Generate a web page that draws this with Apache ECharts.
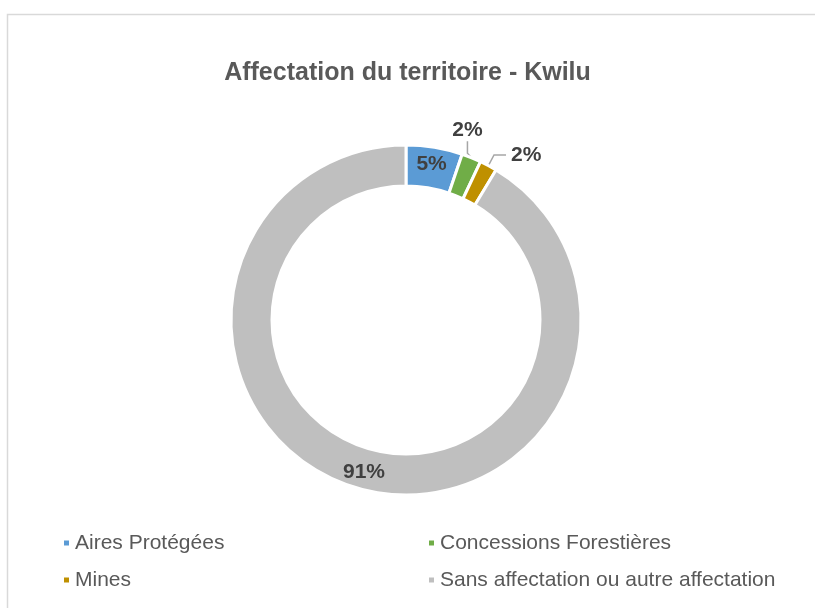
<!DOCTYPE html>
<html>
<head>
<meta charset="utf-8">
<script src="https://cdn.jsdelivr.net/npm/echarts@6/dist/echarts.min.js"></script>
<style>
  html, body { margin: 0; padding: 0; background: #fff; }
  #chart { width: 815px; height: 608px; }
</style>
</head>
<body>
<div id="chart"></div>
<script>
const titleText = 'Affectation du territoire - Kwilu';
const categories = ['Aires Protégées', 'Concessions Forestières', 'Mines', 'Sans affectation ou autre affectation'];
const shares = [5.2, 1.8, 1.6, 91.4];
const colors = ['#5B9BD5', '#70AD47', '#BF9000', '#BFBFBF'];

const total = shares.reduce((a, b) => a + b, 0);
const fontFamily = '"Liberation Sans", Arial, sans-serif';

const chart = echarts.init(document.getElementById('chart'));

const pieData = categories.map((name, i) => {
  const item = { name, value: shares[i], itemStyle: { color: colors[i] } };
  // the two thin slices get their label outside with a leader line
  if (i === 1 || i === 2) {
    item.label = { position: 'outside' };
    item.labelLine = { show: true, length: 12, length2: 12 };
  }
  return item;
});

const legendText = { color: '#595959', fontSize: 21, fontFamily, lineHeight: 24 };

chart.setOption({
  backgroundColor: '#fff',
  animation: false,
  title: {
    text: titleText,
    left: 'center',
    top: 56,
    textStyle: { color: '#595959', fontSize: 25, fontWeight: 'bold', fontFamily }
  },
  graphic: [{
    type: 'rect',
    shape: { x: 7.5, y: 14.5, width: 900, height: 700 },
    style: { fill: 'none', stroke: '#D9D9D9', lineWidth: 1.5 },
    silent: true
  }],
  legend: [
    {
      data: [categories[0], categories[2]],
      orient: 'vertical',
      left: 62, top: 531, padding: 0,
      icon: 'rect', itemWidth: 7, itemHeight: 7, itemGap: 13,
      textStyle: legendText
    },
    {
      data: [categories[1], categories[3]],
      orient: 'vertical',
      left: 427, top: 531, padding: 0,
      icon: 'rect', itemWidth: 7, itemHeight: 7, itemGap: 13,
      textStyle: legendText
    }
  ],
  series: [{
    type: 'pie',
    center: [406, 320],
    radius: [134, 175],
    startAngle: 90,
    clockwise: true,
    avoidLabelOverlap: false,
    itemStyle: { borderColor: '#fff', borderWidth: 3 },
    label: {
      show: true,
      position: 'inside',
      color: '#404040',
      fontSize: 21,
      fontWeight: 'bold',
      fontFamily,
      formatter: p => Math.round(p.value / total * 100) + '%'
    },
    labelLine: { lineStyle: { color: '#A6A6A6', width: 1.5 } },
    // green label sits straight above its slice, as in the original
    labelLayout: p => {
      if (p.dataIndex !== 1 || !p.labelLinePoints) return {};
      const start = p.labelLinePoints[0];
      return { x: start[0] - 4, y: start[1] - 27, align: 'center', verticalAlign: 'middle' };
    },
    emphasis: { disabled: true },
    data: pieData
  }]
});
</script>
</body>
</html>
